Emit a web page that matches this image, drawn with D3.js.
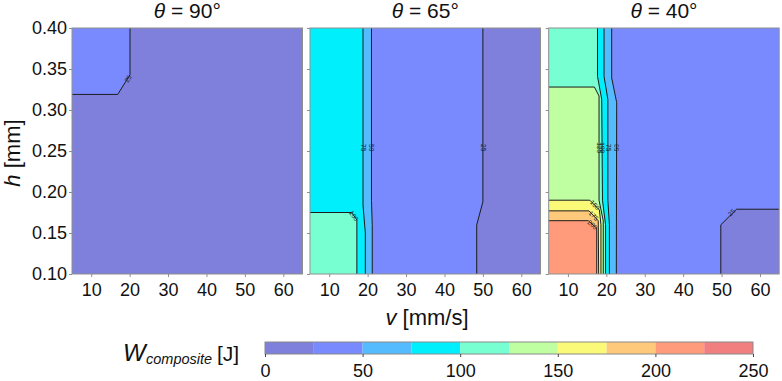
<!DOCTYPE html>
<html><head><meta charset="utf-8">
<script src="https://cdn.jsdelivr.net/npm/d3@7"></script>
<style>body{margin:0;background:#fff}svg{display:block}</style>
</head><body>
<svg id="chart" width="782" height="381"></svg>
<script>
// ---------- data ----------
const thetaLabels = ["90", "65", "40"];
const vTicks = [10, 20, 30, 40, 50, 60];
const hTicks = [0.10, 0.15, 0.20, 0.25, 0.30, 0.35, 0.40];
const vDomain = [5, 65];
const hDomain = [0.10, 0.40];
const levels = [0, 25, 50, 75, 100, 125, 150, 175, 200, 225, 250];
const bandColors = ["#7f7fdc", "#798afe", "#55bbff", "#00effd", "#77ffd2",
                    "#bfffa2", "#fafa78", "#ffc97b", "#ff9b7b", "#f27f80"];
const colorbarTicks = [0, 50, 100, 150, 200, 250];

// contour lines [v (mm/s), h (mm)]
const contours90 = [
  {level: 25, points: [[20.1, 0.40], [20.1, 0.343], [16.9, 0.319], [5, 0.319]]}
];
const contours65 = [
  {level: 25, points: [[50.0, 0.40], [50.0, 0.188], [48.4, 0.160], [48.4, 0.10]]},
  {level: 50, points: [[21.0, 0.40], [21.0, 0.190], [21.2, 0.160], [21.2, 0.10]]},
  {level: 75, points: [[18.8, 0.40], [18.8, 0.184], [19.4, 0.150], [19.4, 0.10]]},
  {level: 100, points: [[5, 0.175], [15.8, 0.175], [17.2, 0.166], [17.2, 0.10]]}
];
const contours40 = [
  {level: 25, points: [[65, 0.179], [53.9, 0.179], [49.8, 0.160], [49.8, 0.10]]},
  {level: 50, points: [[21.4, 0.40], [21.4, 0.339], [22.7, 0.309], [22.6, 0.10]]},
  {level: 75, points: [[19.4, 0.40], [19.4, 0.341], [20.4, 0.313], [20.4, 0.19], [20.8, 0.16], [20.8, 0.10]]},
  {level: 100, points: [[17.7, 0.40], [17.7, 0.341], [18.8, 0.313], [19.0, 0.19], [19.8, 0.16], [19.8, 0.10]]},
  {level: 125, points: [[5, 0.328], [16.9, 0.328], [18.1, 0.317], [18.1, 0.19], [19.2, 0.165], [19.2, 0.10]]},
  {level: 150, points: [[5, 0.190], [15.7, 0.190], [18.2, 0.178], [18.6, 0.16], [18.6, 0.10]]},
  {level: 175, points: [[5, 0.177], [15.5, 0.177], [17.9, 0.165], [18.0, 0.10]]},
  {level: 200, points: [[5, 0.165], [15.3, 0.165], [17.5, 0.156], [17.5, 0.10]]}
];
// inline contour labels
const labels90 = [{level: 25, at: [19.6, 0.338]}];
const labels65 = [
  {level: 75, at: [18.8, 0.254]}, {level: 50, at: [21.0, 0.254]},
  {level: 25, at: [50.0, 0.254]}, {level: 100, at: [16.4, 0.171]}
];
const labels40 = [
  {level: 125, at: [18.1, 0.254]}, {level: 100, at: [18.95, 0.254]},
  {level: 75, at: [20.4, 0.254]}, {level: 50, at: [22.65, 0.254]},
  {level: 150, at: [17.0, 0.184]}, {level: 175, at: [16.7, 0.171]},
  {level: 200, at: [16.4, 0.160]}, {level: 25, at: [52.6, 0.175]}
];

// ---------- drawing ----------
const svg = d3.select("#chart");
const FONT = "'Liberation Sans', Arial, Helvetica, sans-serif";
const panelLefts = [72, 310, 548.7];
const panelWidth = 230.5;
const plotTop = 28, plotBottom = 274;
const panelContours = [contours90, contours65, contours40];
const panelLabels = [labels90, labels65, labels40];
const color = d3.scaleThreshold().domain(levels.slice(1, -1)).range(bandColors);

// perimeter position (clockwise on screen) of a boundary point
function perim(p) {
  const [v, h] = p, e = 1e-6;
  if (Math.abs(h - hDomain[1]) < e) return (v - vDomain[0]) / (vDomain[1] - vDomain[0]);
  if (Math.abs(v - vDomain[1]) < e) return 1 + (hDomain[1] - h) / (hDomain[1] - hDomain[0]);
  if (Math.abs(h - hDomain[0]) < e) return 2 + (vDomain[1] - v) / (vDomain[1] - vDomain[0]);
  return 3 + (h - hDomain[0]) / (hDomain[1] - hDomain[0]);
}
const corners = [[vDomain[0], hDomain[1]], [vDomain[1], hDomain[1]], [vDomain[1], hDomain[0]], [vDomain[0], hDomain[0]]];
function closeRegion(points) {
  const tStart = perim(points[0]);
  const tEnd = perim(points[points.length - 1]);
  const target = tStart <= tEnd ? tStart + 4 : tStart;
  const out = points.slice();
  for (let k = Math.ceil(tEnd + 1e-9); k <= Math.floor(target - 1e-9); k++) out.push(corners[k % 4]);
  return out;
}

const defs = svg.append("defs");

panelLefts.forEach((L, i) => {
  const x = d3.scaleLinear().domain(vDomain).range([L, L + panelWidth]);
  const y = d3.scaleLinear().domain(hDomain).range([plotBottom, plotTop]);
  const line = d3.line().x(d => x(d[0])).y(d => y(d[1]));
  const g = svg.append("g");

  defs.append("clipPath").attr("id", "clip" + i).append("rect")
    .attr("x", x(vDomain[0])).attr("y", y(hDomain[1]))
    .attr("width", x(vDomain[1]) - x(vDomain[0])).attr("height", y(hDomain[0]) - y(hDomain[1]));

  const fills = g.append("g").attr("clip-path", `url(#clip${i})`);
  fills.append("rect")
    .attr("x", x(vDomain[0])).attr("y", y(hDomain[1]))
    .attr("width", x(vDomain[1]) - x(vDomain[0])).attr("height", y(hDomain[0]) - y(hDomain[1]))
    .attr("fill", color(levels[0]));
  const cs = panelContours[i].slice().sort((a, b) => a.level - b.level);
  fills.selectAll("path.band").data(cs).join("path").attr("class", "band")
    .attr("d", c => line(closeRegion(c.points)) + "Z")
    .attr("fill", c => color(c.level));
  fills.selectAll("path.cline").data(cs).join("path").attr("class", "cline")
    .attr("d", c => line(c.points))
    .attr("fill", "none").attr("stroke", "#1c1c1c").attr("stroke-width", 1)
    .attr("stroke-linejoin", "round");

  // inline labels
  fills.selectAll("text.clab").data(panelLabels[i]).join("text").attr("class", "clab")
    .attr("transform", lab => {
      const c = panelContours[i].find(cc => cc.level === lab.level);
      const px = x(lab.at[0]), py = y(lab.at[1]);
      let best = null, bd = Infinity;
      for (let k = 0; k < c.points.length - 1; k++) {
        const ax = x(c.points[k][0]), ay = y(c.points[k][1]);
        const bx = x(c.points[k + 1][0]), by = y(c.points[k + 1][1]);
        const dx = bx - ax, dy = by - ay;
        const t = Math.max(0, Math.min(1, ((px - ax) * dx + (py - ay) * dy) / (dx * dx + dy * dy || 1)));
        const d = Math.hypot(ax + t * dx - px, ay + t * dy - py);
        if (d < bd) { bd = d; best = [dx, dy]; }
      }
      let ang = Math.atan2(best[1], best[0]) * 180 / Math.PI;
      if (ang > 90) ang -= 180;
      if (ang <= -90) ang += 180;
      return `translate(${px},${py}) rotate(${ang})`;
    })
    .attr("text-anchor", "middle").attr("dy", "0.35em")
    .attr("font-family", FONT).attr("font-size", 6.5).attr("fill", "#1c1c1c")
    .text(lab => lab.level);

  // frame
  g.append("rect")
    .attr("x", x(vDomain[0])).attr("y", y(hDomain[1]))
    .attr("width", x(vDomain[1]) - x(vDomain[0])).attr("height", y(hDomain[0]) - y(hDomain[1]))
    .attr("fill", "none").attr("stroke", "#8f8f8f").attr("stroke-width", 1);

  // axes
  const ya = g.append("g").attr("transform", `translate(${x(vDomain[0])},0)`)
    .call(d3.axisLeft(y).tickValues(hTicks).tickSize(3).tickPadding(2)
      .tickFormat(i === 0 ? d3.format(".2f") : () => ""));
  const xa = g.append("g").attr("transform", `translate(0,${y(hDomain[0])})`)
    .call(d3.axisBottom(x).tickValues(vTicks).tickSize(3).tickPadding(6));
  [ya, xa].forEach(a => {
    a.select(".domain").remove();
    a.selectAll(".tick line").attr("stroke", "#8f8f8f");
    a.selectAll(".tick text").attr("font-family", FONT).attr("font-size", 18).attr("fill", "#111");
  });

  // title
  const title = g.append("text")
    .attr("x", x((vDomain[0] + vDomain[1]) / 2)).attr("y", 18)
    .attr("text-anchor", "middle").attr("font-family", FONT).attr("font-size", 21).attr("fill", "#111");
  title.append("tspan").attr("font-style", "italic").text("θ");
  title.append("tspan").text(" = " + thetaLabels[i] + "°");
});

// axis titles
const xt = svg.append("text").attr("x", 427).attr("y", 325).attr("text-anchor", "middle")
  .attr("font-family", FONT).attr("font-size", 22).attr("fill", "#111");
xt.append("tspan").attr("font-style", "italic").text("v");
xt.append("tspan").text(" [mm/s]");

const yt = svg.append("text").attr("transform", "translate(20,153) rotate(-90)").attr("text-anchor", "middle")
  .attr("font-family", FONT).attr("font-size", 22).attr("fill", "#111");
yt.append("tspan").attr("font-style", "italic").text("h");
yt.append("tspan").text(" [mm]");

// colorbar
const cx = d3.scaleLinear().domain([levels[0], levels[levels.length - 1]]).range([265, 753]);
const cbTop = 342, cbH = 12;
const cb = svg.append("g");
cb.selectAll("rect.cb").data(bandColors).join("rect").attr("class", "cb")
  .attr("x", (d, k) => cx(levels[k])).attr("width", (d, k) => cx(levels[k + 1]) - cx(levels[k]))
  .attr("y", cbTop).attr("height", cbH).attr("fill", d => d);
cb.append("rect").attr("x", cx(0)).attr("y", cbTop).attr("width", cx(250) - cx(0)).attr("height", cbH)
  .attr("fill", "none").attr("stroke", "#8a8a8a");
const cba = cb.append("g").attr("transform", `translate(0,${cbTop + cbH})`)
  .call(d3.axisBottom(cx).tickValues(colorbarTicks).tickSize(3).tickPadding(7));
cba.select(".domain").remove();
cba.selectAll(".tick line").attr("stroke", "#444");
cba.selectAll(".tick text").attr("font-family", FONT).attr("font-size", 18).attr("fill", "#111");

// colorbar label
svg.append("text").attr("x", 123).attr("y", 361).attr("font-family", FONT).attr("font-size", 24)
  .attr("font-style", "italic").attr("fill", "#111").text("W");
svg.append("text").attr("x", 146).attr("y", 364).attr("font-family", FONT).attr("font-size", 14.5)
  .attr("font-style", "italic").attr("fill", "#111").text("composite");
svg.append("text").attr("x", 217).attr("y", 361).attr("font-family", FONT).attr("font-size", 21)
  .attr("fill", "#111").text("[J]");
</script>
</body></html>
